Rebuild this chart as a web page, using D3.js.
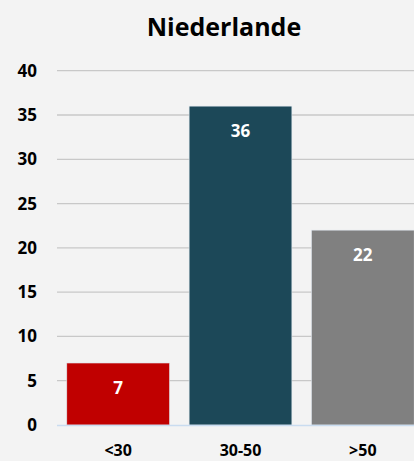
<!DOCTYPE html>
<html>
<head>
<meta charset="utf-8">
<script src="https://cdn.jsdelivr.net/npm/d3@7"></script>
<style>
  html, body { margin: 0; padding: 0; background: #f3f3f3; }
  svg { display: block; font-family: "Open Sans", "Noto Sans", sans-serif; }
</style>
</head>
<body>
<svg id="chart" width="414" height="461"></svg>
<script>
// chart data
const title = 'Niederlande';
const categories = ['<30', '30-50', '>50'];
const values = [7, 36, 22];
const barColors = ['#c00000', '#1c4858', '#808080'];
const yTicks = [0, 5, 10, 15, 20, 25, 30, 35, 40];

const svg = d3.select('#chart');
const plotLeft = 57, plotRight = 424, plotTop = 70.7, plotBottom = 425;

const x = d3.scaleBand()
    .domain(categories)
    .range([plotLeft, plotRight])
    .paddingInner(0.16)
    .paddingOuter(0.08);

const y = d3.scaleLinear()
    .domain([0, 40])
    .range([plotBottom, plotTop]);

svg.append('rect').attr('width', 414).attr('height', 461).attr('fill', '#f3f3f3');

svg.append('text')
    .attr('x', 224).attr('y', 27)
    .attr('dy', '0.35em')
    .attr('text-anchor', 'middle')
    .attr('font-size', 25).attr('font-weight', 700)
    .text(title);

// gridlines
svg.append('g')
    .selectAll('line')
    .data(yTicks.filter(d => d > 0))
    .join('line')
    .attr('x1', plotLeft).attr('x2', 414)
    .attr('y1', d => y(d)).attr('y2', d => y(d))
    .attr('stroke', '#c8c8c8').attr('stroke-width', 1.3);

// y labels
svg.append('g')
    .selectAll('text')
    .data(yTicks)
    .join('text')
    .attr('x', 37)
    .attr('y', d => y(d))
    .attr('dy', '0.35em')
    .attr('text-anchor', 'end')
    .attr('font-size', 17).attr('font-weight', 700)
    .text(d => d);

// bars
svg.append('g')
    .selectAll('rect')
    .data(values)
    .join('rect')
    .attr('x', (d, i) => x(categories[i]))
    .attr('width', x.bandwidth())
    .attr('y', d => y(d))
    .attr('height', d => y(0) - y(d))
    .attr('fill', (d, i) => barColors[i])
    .attr('stroke', '#dfe6ee').attr('stroke-width', 0.6);

// axis line
svg.append('line')
    .attr('x1', plotLeft).attr('x2', 414)
    .attr('y1', plotBottom + 0.5).attr('y2', plotBottom + 0.5)
    .attr('stroke', '#c9dcf0').attr('stroke-width', 1.5);

// value labels
svg.append('g')
    .selectAll('text')
    .data(values)
    .join('text')
    .attr('x', (d, i) => x(categories[i]) + x.bandwidth() / 2)
    .attr('y', d => y(d) + 25)
    .attr('dy', '0.35em')
    .attr('text-anchor', 'middle')
    .attr('fill', '#fff')
    .attr('font-size', 17).attr('font-weight', 700)
    .text(d => d);

// x labels
svg.append('g')
    .selectAll('text')
    .data(categories)
    .join('text')
    .attr('x', d => x(d) + x.bandwidth() / 2)
    .attr('y', 456)
    .attr('font-size', 16).attr('font-weight', 700)
    .attr('text-anchor', 'middle')
    .text(d => d);
</script>
</body>
</html>
